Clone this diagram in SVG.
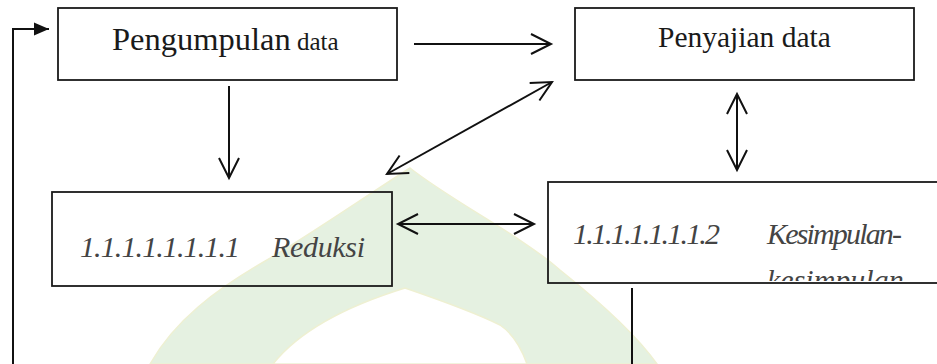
<svg xmlns="http://www.w3.org/2000/svg" width="937" height="364" viewBox="0 0 937 364">
<style>
.box{fill:none;stroke:#1a1a1a;stroke-width:1.8}
.con{fill:none;stroke:#111;stroke-width:2}
.t1{fill:#1a1a1a}
.t2{font-style:italic;fill:#444;font-size:30px}
</style>
<defs>
<marker id="open" markerUnits="userSpaceOnUse" markerWidth="26" markerHeight="26" viewBox="0 -13 24 26" refX="22" refY="0" orient="auto-start-reverse">
<path d="M2,-10 L22,0 L2,10" fill="none" stroke="#111" stroke-width="2"/>
</marker>
<marker id="solid" markerUnits="userSpaceOnUse" markerWidth="16" markerHeight="14" viewBox="0 -7 15 14" refX="15" refY="0" orient="auto">
<path d="M0,-6.5 L15,0 L0,6.5 Z" fill="#111"/>
</marker>
<clipPath id="clip4"><rect x="549" y="183" width="388" height="98"/></clipPath>
</defs>
<g id="watermark">
<path fill-rule="evenodd" fill="#e5f1e1" stroke="#eef0d2" stroke-width="1.5" d="M150,364 C175,320 215,290 267,260 C310,235 360,200 410,168 C450,200 520,235 560,270 C610,310 640,340 657,364 Z M273,364 C300,330 350,305 405,288 C440,300 480,315 500,325 C515,335 522,350 527,364 Z"/>
</g>
<g id="node-pengumpulan">
<rect class="box" x="58" y="8" width="339" height="72"/>
<text class="t1" font-family="'Liberation Serif', 'DejaVu Serif', serif" x="112" y="50"><tspan font-size="32.5">Pengumpulan</tspan><tspan font-size="25"> data</tspan></text>
</g>
<g id="node-penyajian">
<rect class="box" x="575" y="8" width="339" height="72"/>
<text class="t1" font-family="'Liberation Serif', 'DejaVu Serif', serif" x="658" y="47" font-size="29.5">Penyajian data</text>
</g>
<g id="node-reduksi">
<rect class="box" x="52" y="192" width="340" height="94"/>
<text class="t2" font-family="'Liberation Serif', 'DejaVu Serif', serif" y="257"><tspan x="80" textLength="160">1.1.1.1.1.1.1.1</tspan><tspan x="272" textLength="93">Reduksi</tspan></text>
</g>
<g id="node-kesimpulan">
<rect class="box" x="548" y="182" width="400" height="101"/>
<g clip-path="url(#clip4)">
<text class="t2" font-family="'Liberation Serif', 'DejaVu Serif', serif" y="244"><tspan x="573" textLength="147">1.1.1.1.1.1.1.2</tspan><tspan x="767" textLength="135">Kesimpulan-</tspan></text>
<text class="t2" font-family="'Liberation Serif', 'DejaVu Serif', serif" x="767" y="290">kesimpulan</text>
</g>
</g>
<g id="connectors">
<line class="con" x1="414" y1="44" x2="551" y2="44" marker-end="url(#open)"/>
<line class="con" x1="552" y1="82" x2="387" y2="174" marker-start="url(#open)" marker-end="url(#open)"/>
<line class="con" x1="737" y1="94" x2="737" y2="170" marker-start="url(#open)" marker-end="url(#open)"/>
<line class="con" x1="229" y1="86" x2="229" y2="178" marker-end="url(#open)"/>
<line class="con" x1="398" y1="224" x2="534" y2="224" marker-start="url(#open)" marker-end="url(#open)"/>
<line class="con" x1="632" y1="288" x2="632" y2="364" stroke-width="1.5"/>
<polyline class="con" points="13,364 13,29 49,29" stroke-width="2.5" marker-end="url(#solid)"/>
</g>
</svg>
